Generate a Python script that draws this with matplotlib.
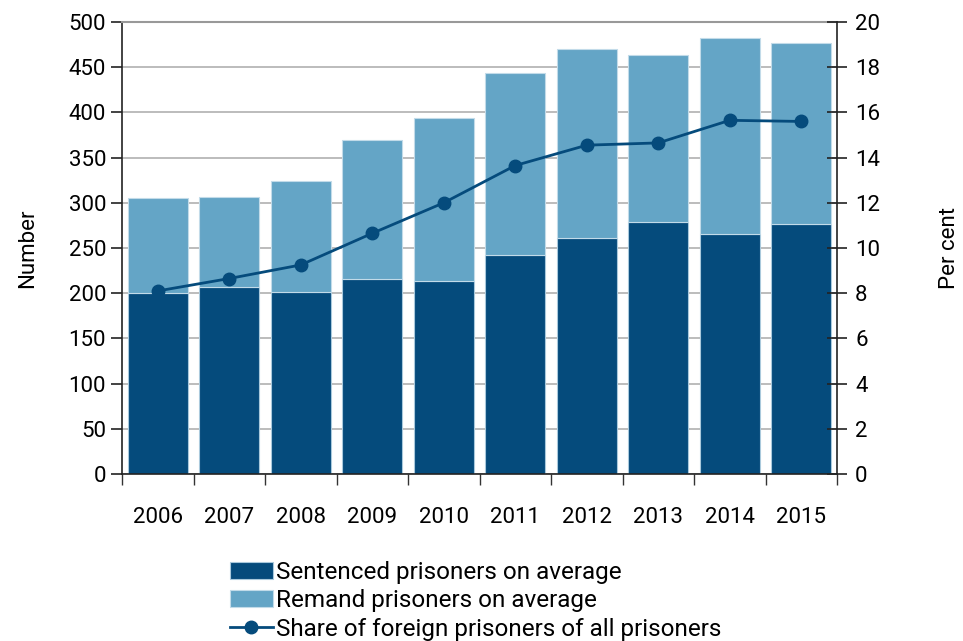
import matplotlib
matplotlib.use("Agg")
import matplotlib.pyplot as plt
import numpy as np

years = ["2006", "2007", "2008", "2009", "2010", "2011", "2012", "2013", "2014", "2015"]
sentenced = [200, 207, 201, 216, 213, 242, 261, 279, 265, 277]
total = [305, 306, 324, 369, 394, 444, 470, 463, 482, 477]
remand = [t - s for t, s in zip(total, sentenced)]
share = [8.1, 8.65, 9.25, 10.65, 12.0, 13.65, 14.55, 14.65, 15.65, 15.6]

dark = "#054B7C"
light = "#64A5C6"

plt.rcParams['font.family'] = ['Roboto', 'DejaVu Sans']
fs = 16
fig = plt.figure(figsize=(9.63, 6.41), dpi=100)
ax = fig.add_axes([122/963, 1-474/641, (837-122)/963, (474-22)/641])
x = np.arange(len(years))
ax.bar(x, sentenced, width=0.84, color=dark, edgecolor="#a9c9dc", linewidth=0.8, zorder=2,
       label="Sentenced prisoners on average")
ax.bar(x, remand, bottom=sentenced, width=0.84, color=light, edgecolor="#c2dbe9", linewidth=0.8, zorder=2,
       label="Remand prisoners on average")
ax.set_xlim(-0.5, len(years) - 0.5)
ax.set_ylim(0, 500)
ax.set_yticks(range(0, 501, 50))
ax.yaxis.grid(True, color="#b0b0b0", linewidth=1.2, zorder=0)
ax.set_axisbelow(True)
ax.set_xticks(x)
ax.set_xticklabels(years)
ax.set_xticks(np.arange(-0.5, len(years), 1.0), minor=True)
ax.tick_params(axis="x", which="major", length=0, pad=24, labelsize=fs)
ax.tick_params(axis="x", which="minor", length=8, width=1, direction="out", color="#333333")
ax.tick_params(axis="y", length=8, width=1.2, direction="out", labelsize=fs, color="#222222")
ax.set_ylabel("Number", fontsize=fs, labelpad=22)
for s in ["left", "bottom"]:
    ax.spines[s].set_color("#222222")
    ax.spines[s].set_linewidth(1.2)
ax.spines["top"].set_color("#999999")
ax.spines["top"].set_linewidth(1.5)
ax.spines["right"].set_visible(False)

ax2 = ax.twinx()
ax2.plot(x, share, color=dark, linewidth=2, marker="o", markersize=9, zorder=5,
         label="Share of foreign prisoners of all prisoners")
ax2.set_ylim(0, 20)
ax2.set_yticks(range(0, 21, 2))
ax2.tick_params(axis="y", length=14, width=1.2, direction="inout", labelsize=fs, color="#222222", pad=6)
ax2.set_ylabel("Per cent", fontsize=fs, labelpad=42)
ax2.spines["right"].set_color("#222222")
ax2.spines["right"].set_linewidth(1.2)
for s in ["left", "top", "bottom"]:
    ax2.spines[s].set_visible(False)

h1, l1 = ax.get_legend_handles_labels()
h2, l2 = ax2.get_legend_handles_labels()
fig.legend(h1 + h2, l1 + l2, loc="upper left", bbox_to_anchor=(230/963, 1-561/641),
           frameon=False, fontsize=17.5, handlelength=1.75, handleheight=0.7,
           handletextpad=0.15, labelspacing=0.22, borderaxespad=0, borderpad=0)

fig.savefig("out.png", dpi=100)
